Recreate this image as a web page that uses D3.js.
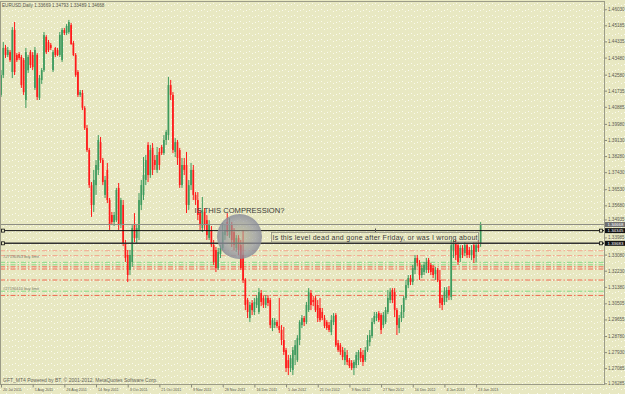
<!DOCTYPE html>
<html>
<head>
<meta charset="utf-8">
<script src="https://cdn.jsdelivr.net/npm/d3@7"></script>
<style>
  body { margin: 0; background: #e8e8c2; }
  svg { display: block; font-family: "Liberation Sans", Arial, sans-serif; }
</style>
</head>
<body>
<div id="chart"></div>
<script>
// EURUSD daily bars (one value per bar)
const open = [
  1.4151, 1.4256, 1.4399, 1.4362, 1.4377, 1.4272, 1.4494, 1.4362, 1.4367, 1.4351,
  1.4335, 1.4124, 1.4282, 1.4377, 1.4362, 1.4188, 1.4362, 1.4135, 1.4230, 1.4282,
  1.4457, 1.4430, 1.4415, 1.4282, 1.4399, 1.4388, 1.4362, 1.4335, 1.4494, 1.4478,
  1.4483, 1.4520, 1.4425, 1.4362, 1.4272, 1.4151, 1.4161, 1.4082, 1.3976, 1.3860,
  1.3675, 1.3570, 1.3675, 1.3755, 1.3902, 1.3807, 1.3623, 1.3755, 1.3596, 1.3517,
  1.3480, 1.3490, 1.3660, 1.3464, 1.3570, 1.3369, 1.3306, 1.3227, 1.3269, 1.3464,
  1.3396, 1.3438, 1.3570, 1.3623, 1.3702, 1.3887, 1.3728, 1.3871, 1.3807, 1.3755,
  1.3850, 1.3876, 1.3844, 1.3913, 1.3939, 1.4203, 1.4151, 1.3850, 1.3902, 1.3860,
  1.3675, 1.3781, 1.3781, 1.3570, 1.3675, 1.3755, 1.3623, 1.3596, 1.3527, 1.3448,
  1.3533, 1.3490, 1.3396, 1.3438, 1.3358, 1.3332, 1.3237, 1.3311, 1.3343, 1.3411,
  1.3480, 1.3411, 1.3464, 1.3427, 1.3343, 1.3396, 1.3358, 1.3306, 1.3174, 1.3068,
  1.2973, 1.3052, 1.3005, 1.3042, 1.3005, 1.3105, 1.3079, 1.3042, 1.3079, 1.3068,
  1.2920, 1.2936, 1.2952, 1.2931, 1.2910, 1.2857, 1.2804, 1.2751, 1.2709, 1.2699,
  1.2778, 1.2751, 1.2857, 1.2936, 1.2973, 1.2952, 1.3015, 1.3105, 1.3068, 1.3079,
  1.3042, 1.3026, 1.3005, 1.2973, 1.2952, 1.2936, 1.2899, 1.2952, 1.2989, 1.2841,
  1.2830, 1.2804, 1.2751, 1.2778, 1.2751, 1.2736, 1.2709, 1.2725, 1.2751, 1.2794,
  1.2778, 1.2751, 1.2804, 1.2846, 1.2878, 1.2952, 1.2973, 1.2999, 1.2989, 1.2936,
  1.2952, 1.3005, 1.3068, 1.3121, 1.3110, 1.3015, 1.2920, 1.2973, 1.3005, 1.3079,
  1.3147, 1.3184, 1.3163, 1.3227, 1.3290, 1.3264, 1.3200, 1.3216, 1.3227, 1.3279,
  1.3253, 1.3237, 1.3205, 1.3227, 1.3174, 1.3079, 1.3058, 1.3079, 1.3121, 1.3084,
  1.3332, 1.3369, 1.3358, 1.3290, 1.3343, 1.3316, 1.3358, 1.3332, 1.3306, 1.3358,
  1.3322, 1.3358, 1.33669
];
const high = [
  1.4282, 1.4430, 1.4415, 1.4404, 1.4388, 1.4509, 1.4536, 1.4372, 1.4377, 1.4362,
  1.4346, 1.4399, 1.4362, 1.4388, 1.4377, 1.4404, 1.4372, 1.4256, 1.4293, 1.4483,
  1.4467, 1.4441, 1.4425, 1.4388, 1.4404, 1.4399, 1.4483, 1.4504, 1.4504, 1.4525,
  1.4547, 1.4531, 1.4436, 1.4372, 1.4282, 1.4177, 1.4177, 1.4092, 1.3992, 1.3871,
  1.3691, 1.3755, 1.3807, 1.3939, 1.3929, 1.3818, 1.3723, 1.3792, 1.3607, 1.3533,
  1.3533, 1.3660, 1.3686, 1.3607, 1.3596, 1.3385, 1.3332, 1.3332, 1.3464, 1.3527,
  1.3464, 1.3633, 1.3702, 1.3823, 1.3834, 1.3902, 1.3887, 1.3897, 1.3834, 1.3876,
  1.3871, 1.3887, 1.3939, 1.3966, 1.4246, 1.4230, 1.4166, 1.3923, 1.3913, 1.3871,
  1.3818, 1.3818, 1.3850, 1.3702, 1.3792, 1.3781, 1.3638, 1.3638, 1.3543, 1.3612,
  1.3554, 1.3517, 1.3490, 1.3459, 1.3385, 1.3348, 1.3343, 1.3358, 1.3475, 1.3464,
  1.3527, 1.3501, 1.3480, 1.3448, 1.3411, 1.3411, 1.3385, 1.3438, 1.3184, 1.3079,
  1.3058, 1.3068, 1.3079, 1.3094, 1.3131, 1.3121, 1.3089, 1.3094, 1.3094, 1.3079,
  1.2973, 1.2973, 1.2962, 1.3079, 1.2936, 1.2926, 1.2815, 1.2778, 1.2778, 1.2820,
  1.2857, 1.2883, 1.2962, 1.2989, 1.2984, 1.3058, 1.3131, 1.3121, 1.3089, 1.3089,
  1.3068, 1.3079, 1.3026, 1.2989, 1.2962, 1.2952, 1.2989, 1.2999, 1.2999, 1.2857,
  1.2841, 1.2820, 1.2815, 1.2804, 1.2762, 1.2751, 1.2751, 1.2794, 1.2804, 1.2815,
  1.2804, 1.2820, 1.2883, 1.2910, 1.2973, 1.3005, 1.3005, 1.3010, 1.2999, 1.3005,
  1.3031, 1.3121, 1.3131, 1.3131, 1.3131, 1.3026, 1.2989, 1.3042, 1.3089, 1.3174,
  1.3200, 1.3200, 1.3253, 1.3306, 1.3306, 1.3279, 1.3253, 1.3269, 1.3290, 1.3290,
  1.3264, 1.3253, 1.3242, 1.3237, 1.3227, 1.3094, 1.3136, 1.3136, 1.3142, 1.3385,
  1.3385, 1.3385, 1.3374, 1.3358, 1.3358, 1.3374, 1.3369, 1.3348, 1.3358, 1.3374,
  1.3374, 1.3385, 1.34793
];
const low = [
  1.4140, 1.4240, 1.4346, 1.4351, 1.4325, 1.4240, 1.4256, 1.4325, 1.4335, 1.4188,
  1.4151, 1.4082, 1.4267, 1.4293, 1.4282, 1.4177, 1.4124, 1.4124, 1.4209, 1.4272,
  1.4367, 1.4377, 1.4388, 1.4272, 1.4351, 1.4356, 1.4351, 1.4325, 1.4467, 1.4467,
  1.4473, 1.4415, 1.4356, 1.4246, 1.4140, 1.4140, 1.4071, 1.3966, 1.3850, 1.3660,
  1.3507, 1.3533, 1.3623, 1.3728, 1.3792, 1.3675, 1.3607, 1.3580, 1.3438, 1.3464,
  1.3459, 1.3480, 1.3438, 1.3448, 1.3353, 1.3269, 1.3163, 1.3200, 1.3242, 1.3374,
  1.3369, 1.3385, 1.3543, 1.3596, 1.3675, 1.3691, 1.3713, 1.3728, 1.3755, 1.3739,
  1.3755, 1.3834, 1.3834, 1.3887, 1.3913, 1.4124, 1.3844, 1.3823, 1.3781, 1.3660,
  1.3660, 1.3728, 1.3527, 1.3543, 1.3649, 1.3596, 1.3570, 1.3490, 1.3438, 1.3427,
  1.3438, 1.3385, 1.3385, 1.3348, 1.3253, 1.3216, 1.3227, 1.3290, 1.3332, 1.3385,
  1.3406, 1.3396, 1.3348, 1.3332, 1.3322, 1.3306, 1.3227, 1.3158, 1.3015, 1.2973,
  1.2952, 1.2989, 1.2989, 1.3026, 1.2994, 1.3036, 1.3026, 1.3026, 1.3036, 1.2920,
  1.2904, 1.2920, 1.2920, 1.2894, 1.2830, 1.2778, 1.2688, 1.2672, 1.2688, 1.2672,
  1.2725, 1.2741, 1.2830, 1.2920, 1.2931, 1.2941, 1.3005, 1.3015, 1.3036, 1.3005,
  1.2952, 1.2952, 1.2962, 1.2920, 1.2910, 1.2899, 1.2883, 1.2936, 1.2820, 1.2794,
  1.2778, 1.2751, 1.2725, 1.2725, 1.2709, 1.2699, 1.2672, 1.2709, 1.2725, 1.2741,
  1.2720, 1.2741, 1.2794, 1.2825, 1.2867, 1.2941, 1.2957, 1.2952, 1.2888, 1.2920,
  1.2941, 1.2994, 1.3052, 1.3052, 1.2978, 1.2883, 1.2894, 1.2952, 1.2973, 1.3068,
  1.3131, 1.3147, 1.3147, 1.3205, 1.3248, 1.3174, 1.3184, 1.3200, 1.3211, 1.3211,
  1.3200, 1.3184, 1.3174, 1.3163, 1.3026, 1.3015, 1.3042, 1.3058, 1.3068, 1.3068,
  1.3290, 1.3279, 1.3253, 1.3269, 1.3290, 1.3300, 1.3290, 1.3290, 1.3279, 1.3264,
  1.3269, 1.3322, 1.33489
];
const close = [
  1.4256, 1.4399, 1.4362, 1.4388, 1.4335, 1.4494, 1.4272, 1.4335, 1.4346, 1.4203,
  1.4166, 1.4377, 1.4351, 1.4309, 1.4298, 1.4388, 1.4140, 1.4240, 1.4282, 1.4467,
  1.4377, 1.4388, 1.4399, 1.4377, 1.4362, 1.4362, 1.4467, 1.4494, 1.4478, 1.4515,
  1.4536, 1.4420, 1.4362, 1.4256, 1.4151, 1.4166, 1.4082, 1.3976, 1.3860, 1.3675,
  1.3570, 1.3702, 1.3781, 1.3913, 1.3807, 1.3691, 1.3702, 1.3596, 1.3464, 1.3480,
  1.3517, 1.3649, 1.3464, 1.3596, 1.3369, 1.3290, 1.3200, 1.3306, 1.3448, 1.3396,
  1.3448, 1.3596, 1.3675, 1.3728, 1.3807, 1.3728, 1.3860, 1.3755, 1.3781, 1.3834,
  1.3781, 1.3844, 1.3913, 1.3955, 1.4203, 1.4151, 1.3860, 1.3902, 1.3818, 1.3675,
  1.3781, 1.3755, 1.3570, 1.3675, 1.3755, 1.3623, 1.3596, 1.3517, 1.3464, 1.3543,
  1.3464, 1.3411, 1.3464, 1.3358, 1.3269, 1.3237, 1.3322, 1.3343, 1.3427, 1.3438,
  1.3427, 1.3464, 1.3385, 1.3358, 1.3396, 1.3332, 1.3237, 1.3174, 1.3042, 1.3005,
  1.3042, 1.3015, 1.3058, 1.3079, 1.3110, 1.3058, 1.3042, 1.3079, 1.3052, 1.2936,
  1.2962, 1.2952, 1.2931, 1.2910, 1.2857, 1.2794, 1.2709, 1.2709, 1.2762, 1.2804,
  1.2830, 1.2867, 1.2952, 1.2973, 1.2952, 1.3042, 1.3110, 1.3042, 1.3058, 1.3015,
  1.2973, 1.2962, 1.2973, 1.2931, 1.2920, 1.2910, 1.2962, 1.2984, 1.2830, 1.2804,
  1.2794, 1.2767, 1.2794, 1.2741, 1.2720, 1.2709, 1.2741, 1.2778, 1.2794, 1.2762,
  1.2741, 1.2804, 1.2857, 1.2883, 1.2952, 1.2984, 1.2994, 1.2962, 1.2910, 1.2989,
  1.3015, 1.3079, 1.3110, 1.3068, 1.3015, 1.2936, 1.2973, 1.3005, 1.3079, 1.3147,
  1.3184, 1.3163, 1.3237, 1.3290, 1.3264, 1.3200, 1.3237, 1.3253, 1.3269, 1.3227,
  1.3216, 1.3200, 1.3227, 1.3174, 1.3052, 1.3042, 1.3110, 1.3121, 1.3094, 1.3358,
  1.3369, 1.3306, 1.3269, 1.3343, 1.3306, 1.3358, 1.3306, 1.3306, 1.3332, 1.3290,
  1.3358, 1.3343, 1.34668
];

// time axis labels (one every 14 bars) and their bar numbers
const timeLabels = ["20 Jul 2011", "5 Aug 2011", "26 Aug 2011", "14 Sep 2011", "3 Oct 2011",
  "21 Oct 2011", "9 Nov 2011", "28 Nov 2011", "16 Dec 2011", "5 Jan 2012", "21 Oct 2012",
  "9 Nov 2012", "27 Nov 2012", "16 Dec 2012", "4 Jan 2013", "23 Jan 2013"];
const timeBars = [0, 14, 28, 42, 56, 70, 84, 98, 112, 126, 140, 154, 168, 182, 196, 210];

// price scale labels
const priceLabels = ["1.46030", "1.45185", "1.44335", "1.43480", "1.42580", "1.41735", "1.40885",
  "1.39980", "1.39130", "1.38280", "1.37430", "1.36530", "1.35680", "1.34935", "1.33985",
  "1.33080", "1.32230", "1.31380", "1.30505", "1.29655", "1.28780", "1.27930", "1.27085", "1.26285"];

// horizontal lines: bid line, two drawn levels
const bidPrice = 1.34668;
const drawnLevels = [1.34345, 1.33675];
const drawnLabels = ["1.34345", "1.33683"];

// pending order levels (entry / take profit / stop loss)
const orderLevels = [1.33284, 1.33026, 1.32672, 1.32540, 1.32434, 1.32318, 1.31737, 1.31146, 1.30924];
const orderKinds = ["entry", "entry", "tp", "tp", "sl", "sl", "sl", "tp", "sl"];
const orderNotes = [{ text: "#27190363 buy limit", price: 1.3296 }, { text: "#27190410 buy limit", price: 1.3130 }];

const headerText = "EURUSD,Daily  1.33669 1.34793 1.33489 1.34668";
const footerText = "GFT_MT4 Powered by BT, \u00a9 2001-2012, MetaQuotes Software Corp.";

const W = 625, H = 394;
const plotRight = 604.5, plotBottom = 384.5;
const bg = "#e8e8c2";
const up = "#3e9b5e", down = "#ff1a1a";
const kindColor = { entry: "#f4a68c", tp: "#86da86", sl: "#ef6a52" };

const svg = d3.select("#chart").append("svg")
  .attr("width", W)
  .attr("height", H);

// background with the speckled look of the screenshot
const defs = svg.append("defs");
const pat = defs.append("pattern")
  .attr("id", "dots")
  .attr("width", 9).attr("height", 6)
  .attr("patternUnits", "userSpaceOnUse");
pat.append("rect").attr("width", 9).attr("height", 6).attr("fill", bg);
[[0, 5], [3, 4], [6, 3]].forEach(p => {
  pat.append("rect").attr("x", p[0]).attr("y", p[1]).attr("width", 1).attr("height", 1)
    .attr("fill", "#fbfbee");
});
const grad = defs.append("radialGradient").attr("id", "blob");
grad.append("stop").attr("offset", "0%").attr("stop-color", "#aaa98e").attr("stop-opacity", 0.55);
grad.append("stop").attr("offset", "70%").attr("stop-color", "#9597a0").attr("stop-opacity", 0.72);
grad.append("stop").attr("offset", "100%").attr("stop-color", "#878a98").attr("stop-opacity", 0.82);

svg.append("rect").attr("width", W).attr("height", H).attr("fill", "url(#dots)");

// scales
const x = d3.scaleLinear().domain([0, 210]).range([1, 476.1]);
const y = d3.scaleLinear().domain([1.26285, 1.46030]).range([383.3, 9.3]);
const bars = d3.range(open.length);

// order lines (dash-dot), behind the candles
svg.append("g").selectAll("line")
  .data(orderLevels)
  .enter()
  .append("line")
  .attr("x1", 0).attr("x2", plotRight)
  .attr("y1", d => y(d)).attr("y2", d => y(d))
  .attr("stroke", (d, i) => kindColor[orderKinds[i]])
  .attr("stroke-width", 1)
  .attr("stroke-dasharray", "5,2,1.5,2");

svg.append("g").selectAll("text")
  .data(orderNotes)
  .enter()
  .append("text")
  .attr("x", 3)
  .attr("y", d => y(d.price))
  .attr("dy", "0.35em")
  .style("font-size", "4px")
  .style("fill", "#7a7a6c")
  .text(d => d.text);

// candles
const candle = svg.append("g").selectAll("g")
  .data(bars)
  .enter()
  .append("g");

candle.append("line")
  .attr("x1", i => x(i)).attr("x2", i => x(i))
  .attr("y1", i => y(high[i])).attr("y2", i => y(low[i]))
  .attr("stroke", i => close[i] >= open[i] ? up : down)
  .attr("stroke-width", 1);

candle.append("rect")
  .attr("x", i => x(i) - 0.85)
  .attr("width", 1.7)
  .attr("y", i => y(Math.max(open[i], close[i])))
  .attr("height", i => Math.max(1, Math.abs(y(open[i]) - y(close[i]))))
  .attr("fill", i => close[i] >= open[i] ? up : down);

// bid line and the two drawn levels
svg.append("line")
  .attr("x1", 0).attr("x2", plotRight)
  .attr("y1", y(bidPrice)).attr("y2", y(bidPrice))
  .attr("stroke", "#8e8e84").attr("stroke-width", 1);

svg.append("g").selectAll("line")
  .data(drawnLevels)
  .enter()
  .append("line")
  .attr("x1", 0).attr("x2", plotRight)
  .attr("y1", d => y(d)).attr("y2", d => y(d))
  .attr("stroke", (d, i) => i === 0 ? "#111" : "#333")
  .attr("stroke-width", (d, i) => i === 0 ? 1 : 1.4);

// selection handles at both ends
drawnLevels.forEach(d => {
  [3, 601].forEach(hx => {
    svg.append("rect")
      .attr("x", hx - 1.5).attr("y", y(d) - 1.5)
      .attr("width", 3).attr("height", 3)
      .attr("fill", bg).attr("stroke", "#111").attr("stroke-width", 0.8);
  });
});

// grey circle
svg.append("circle")
  .attr("cx", 239.5).attr("cy", 236.5).attr("r", 22.5)
  .attr("fill", "url(#blob)");

// annotations
svg.append("text")
  .attr("x", 194.5).attr("y", 213)
  .attr("textLength", 90)
  .style("font-size", "7.6px")
  .style("fill", "#3a3a3a")
  .text("IS THIS COMPRESSION?");

svg.append("rect")
  .attr("x", 271.5).attr("y", 232.5)
  .attr("width", 207).attr("height", 9.5)
  .attr("fill", "none")
  .attr("stroke", "#8f8f80").attr("stroke-width", 0.8);

svg.append("text")
  .attr("x", 272.5).attr("y", 239.8)
  .attr("textLength", 205)
  .style("font-size", "7px")
  .style("fill", "#3a3a3a")
  .text("Is this level dead and gone after Friday, or was I wrong about");

svg.append("line")
  .attr("x1", 375.5).attr("x2", 375.5)
  .attr("y1", 228.5).attr("y2", 232)
  .attr("stroke", "#555").attr("stroke-width", 1);

// frame
svg.append("rect")
  .attr("x", 0.5).attr("y", 1.5)
  .attr("width", plotRight - 0.5).attr("height", plotBottom - 1.5)
  .attr("fill", "none")
  .attr("stroke", "#9c9c88").attr("stroke-width", 1);

// price axis
const yAxis = d3.axisRight(y)
  .tickValues(priceLabels.map(Number))
  .tickFormat((d, i) => priceLabels[i])
  .tickSize(2.5)
  .tickPadding(1);

const ya = svg.append("g")
  .attr("transform", `translate(${plotRight},0)`)
  .call(yAxis);
ya.select(".domain").remove();
ya.selectAll("line").attr("stroke", "#8a8a7a");
ya.selectAll("text")
  .style("font-size", "4.6px")
  .style("fill", "#5a5a50")
  .style("font-family", "'Liberation Sans', Arial, sans-serif");

// price boxes on the axis
const boxes = [{ price: bidPrice, label: "1.34668", fill: "#707070" }]
  .concat(drawnLevels.map((d, i) => ({ price: d, label: drawnLabels[i], fill: "#111" })));
const box = svg.append("g").selectAll("g")
  .data(boxes)
  .enter()
  .append("g")
  .attr("transform", d => `translate(605,${y(d.price)})`);
box.append("rect")
  .attr("x", 0).attr("y", -2.5)
  .attr("width", 20).attr("height", 5)
  .attr("fill", d => d.fill);
box.append("text")
  .attr("x", 2.5).attr("dy", "0.35em")
  .style("font-size", "4.4px")
  .style("fill", "#fff")
  .text(d => d.label);

// time axis
const xAxis = d3.axisBottom(x)
  .tickValues(timeBars)
  .tickFormat((d, i) => timeLabels[i])
  .tickSize(3)
  .tickPadding(1);

const xa = svg.append("g")
  .attr("transform", `translate(0,${plotBottom})`)
  .call(xAxis);
xa.select(".domain").remove();
xa.selectAll("line").attr("stroke", "#8a8a7a");
xa.selectAll("text")
  .attr("text-anchor", "start")
  .attr("dx", "1.5px")
  .attr("y", 3.8)
  .style("font-size", "3.7px")
  .style("fill", "#5a5a50")
  .style("font-family", "'Liberation Sans', Arial, sans-serif");

// header and footer
svg.append("text")
  .attr("x", 2).attr("y", 7)
  .style("font-size", "4.6px")
  .style("fill", "#55554a")
  .text(headerText);

svg.append("text")
  .attr("x", 3).attr("y", 382)
  .style("font-size", "5px")
  .style("fill", "#66665a")
  .text(footerText);
</script>
</body>
</html>
